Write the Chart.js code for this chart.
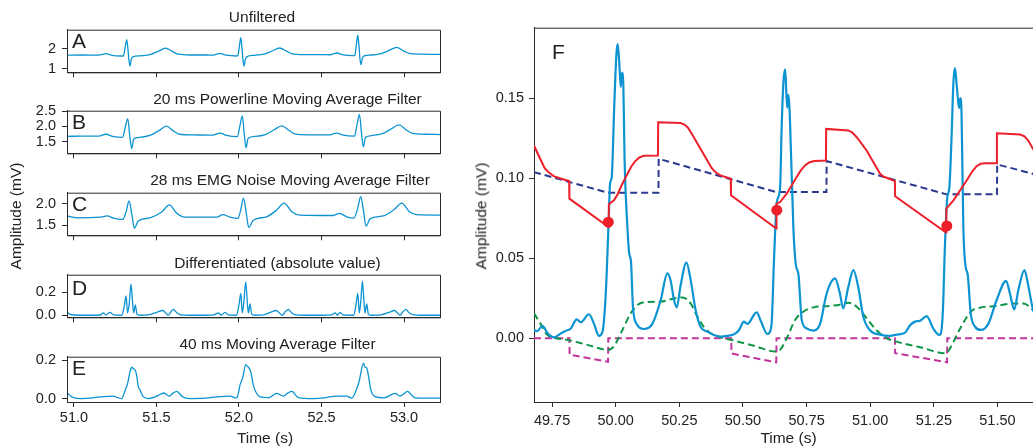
<!DOCTYPE html>
<html>
<head>
<meta charset="utf-8">
<script src="https://cdn.jsdelivr.net/npm/chart.js@4.4.1/dist/chart.umd.min.js"></script>
<style>
body{margin:0;width:1033px;height:447px;overflow:hidden;position:relative;background:#fff;font-family:"Liberation Sans",Arial,Helvetica,sans-serif;color:#222}
canvas{position:absolute}
.lbl{position:absolute;white-space:nowrap;line-height:1;font-size:15.5px;transform:translate(-50%,-50%)}
.rot{transform:translate(-50%,-50%) rotate(-90deg)}
.letter{position:absolute;font-size:21px;line-height:1;transform:translateY(-50%)}
</style>
</head>
<body>
<canvas id="panelA" width="450" height="72" style="left:0;top:15px"></canvas>
<canvas id="panelB" width="450" height="72" style="left:0;top:96px"></canvas>
<canvas id="panelC" width="450" height="72" style="left:0;top:178px"></canvas>
<canvas id="panelD" width="450" height="72" style="left:0;top:260px"></canvas>
<canvas id="panelE" width="450" height="105" style="left:0;top:342px"></canvas>
<canvas id="panelF" width="583" height="433" style="left:470px;top:14px"></canvas>

<div class="lbl" style="left:262px;top:16.5px">Unfiltered</div>
<div class="lbl" style="left:287.5px;top:98.5px">20 ms Powerline Moving Average Filter</div>
<div class="lbl" style="left:290px;top:180px">28 ms EMG Noise Moving Average Filter</div>
<div class="lbl" style="left:277.5px;top:262.5px">Differentiated (absolute value)</div>
<div class="lbl" style="left:277.5px;top:344px">40 ms Moving Average Filter</div>
<div class="lbl" style="left:265px;top:437.5px">Time (s)</div>
<div class="lbl" style="left:788.5px;top:437.5px">Time (s)</div>
<div class="lbl rot" style="left:15.5px;top:216px">Amplitude (mV)</div>
<div class="lbl rot" style="left:480.5px;top:216px">Amplitude (mV)</div>

<div class="letter" style="left:72px;top:39.5px">A</div>
<div class="letter" style="left:72px;top:121px">B</div>
<div class="letter" style="left:72px;top:203px">C</div>
<div class="letter" style="left:72px;top:287px">D</div>
<div class="letter" style="left:72px;top:366.5px">E</div>
<div class="letter" style="left:552px;top:50.5px">F</div>

<script>
// tick labels
const leftTimeTicks = ['51.0', '51.5', '52.0', '52.5', '53.0'];
const rightTimeTicks = ['49.75', '50.00', '50.25', '50.50', '50.75', '51.00', '51.25', '51.50'];
const ticksA = ['1', '2'];
const ticksB = ['1.5', '2.0', '2.5'];
const ticksC = ['1.5', '2.0'];
const ticksD = ['0.0', '0.2'];
const ticksE = ['0.0', '0.2'];
const ticksF = ['0.00', '0.05', '0.10', '0.15'];

// A: unfiltered ECG [time s, mV]
const unfiltered = [
  [50.958,1.67],[51.05,1.68],[51.146,1.67],[51.17,1.70],[51.194,1.75],[51.215,1.70],[51.231,1.66],[51.29,1.63],
  [51.300,1.64],[51.311,2.10],[51.320,2.45],[51.327,2.00],[51.333,1.45],[51.340,1.13],[51.347,1.45],[51.358,1.60],
  [51.400,1.64],[51.461,1.70],[51.510,1.86],[51.556,2.02],[51.594,1.87],[51.631,1.72],[51.703,1.68],[51.80,1.68],
  [51.837,1.67],[51.862,1.71],[51.885,1.76],[51.905,1.71],[51.922,1.67],[51.985,1.63],[51.993,1.65],[52.003,2.15],
  [52.011,2.55],[52.018,2.05],[52.024,1.45],[52.031,1.13],[52.038,1.45],[52.049,1.60],[52.091,1.66],[52.152,1.72],
  [52.201,1.88],[52.247,2.03],[52.285,1.89],[52.322,1.74],[52.394,1.70],[52.50,1.70],[52.546,1.69],[52.570,1.73],
  [52.594,1.78],[52.615,1.73],[52.631,1.69],[52.694,1.65],[52.702,1.67],[52.712,2.25],[52.720,2.67],[52.727,2.15],
  [52.733,1.50],[52.740,1.20],[52.747,1.50],[52.758,1.64],[52.800,1.68],[52.861,1.75],[52.910,1.91],[52.956,2.06],
  [52.994,1.90],[53.031,1.76],[53.103,1.72],[53.218,1.71]
];

// B: 20 ms powerline filter
const powerline = [
  [50.958,1.67],[51.05,1.68],[51.15,1.68],[51.194,1.74],[51.235,1.67],[51.295,1.64],[51.310,1.95],[51.326,2.26],
  [51.338,1.70],[51.350,1.26],[51.362,1.58],[51.40,1.64],[51.46,1.70],[51.515,1.86],[51.562,2.01],[51.600,1.86],
  [51.64,1.74],[51.72,1.72],[51.84,1.71],[51.885,1.78],[51.925,1.70],[51.99,1.66],[52.005,2.00],[52.020,2.35],
  [52.032,1.75],[52.043,1.29],[52.055,1.60],[52.10,1.67],[52.16,1.73],[52.21,1.88],[52.259,2.02],[52.30,1.88],
  [52.34,1.75],[52.42,1.72],[52.55,1.72],[52.592,1.78],[52.632,1.71],[52.70,1.68],[52.715,2.05],[52.730,2.40],
  [52.742,1.80],[52.754,1.32],[52.766,1.63],[52.81,1.70],[52.87,1.76],[52.92,1.91],[52.970,2.05],[53.01,1.90],
  [53.05,1.77],[53.13,1.74],[53.218,1.73]
];

// C: 28 ms EMG filter
const emgFiltered = [
  [50.956,1.72],[51.017,1.675],[51.158,1.69],[51.202,1.72],[51.239,1.67],[51.296,1.64],[51.315,1.80],[51.334,2.07],
  [51.350,1.78],[51.366,1.43],[51.390,1.60],[51.461,1.675],[51.532,1.81],[51.578,1.98],[51.623,1.78],[51.673,1.69],
  [51.865,1.69],[51.902,1.75],[51.946,1.69],[51.993,1.66],[52.010,1.85],[52.027,2.14],[52.043,1.82],[52.059,1.45],
  [52.087,1.62],[52.168,1.70],[52.229,1.86],[52.273,2.02],[52.320,1.82],[52.370,1.74],[52.572,1.73],[52.608,1.78],
  [52.653,1.70],[52.697,1.67],[52.718,1.88],[52.738,2.17],[52.754,1.85],[52.770,1.48],[52.794,1.65],[52.875,1.72],
  [52.940,1.87],[52.986,2.02],[53.033,1.82],[53.077,1.75],[53.218,1.74]
];

// D: differentiated, absolute value
const differentiated = [
  [50.956,0.03],[50.975,0.01],[51.00,0.002],[51.10,0.0],[51.16,0.002],[51.178,0.02],[51.195,0.003],[51.219,0.025],
  [51.24,0.003],[51.29,0.0],[51.305,0.08],[51.316,0.167],[51.325,0.02],[51.335,0.10],[51.346,0.27],[51.356,0.10],
  [51.362,0.02],[51.372,0.09],[51.382,0.01],[51.40,0.0],[51.45,0.003],[51.50,0.025],[51.538,0.041],[51.556,0.02],
  [51.572,0.0],[51.588,0.03],[51.602,0.05],[51.625,0.02],[51.65,0.003],[51.70,0.0],[51.80,0.0],[51.85,0.003],
  [51.875,0.02],[51.893,0.002],[51.916,0.025],[51.935,0.003],[51.985,0.0],[52.000,0.09],[52.011,0.19],[52.020,0.02],
  [52.030,0.12],[52.041,0.29],[52.051,0.10],[52.057,0.02],[52.067,0.098],[52.077,0.01],[52.095,0.0],[52.15,0.003],
  [52.19,0.025],[52.225,0.041],[52.245,0.02],[52.262,0.0],[52.28,0.03],[52.299,0.05],[52.32,0.02],[52.345,0.003],
  [52.40,0.0],[52.50,0.0],[52.56,0.003],[52.582,0.02],[52.598,0.002],[52.613,0.025],[52.63,0.003],[52.695,0.0],
  [52.709,0.09],[52.720,0.19],[52.729,0.02],[52.738,0.12],[52.748,0.295],[52.758,0.10],[52.764,0.02],[52.774,0.098],
  [52.784,0.01],[52.80,0.0],[52.86,0.003],[52.91,0.025],[52.942,0.041],[52.96,0.02],[52.976,0.0],[52.993,0.03],
  [53.011,0.05],[53.032,0.02],[53.06,0.003],[53.10,0.0],[53.218,0.0]
];

// E: 40 ms moving average
const integrated = [
  [50.956,0.033],[50.986,0.009],[51.037,0.0],[51.10,0.002],[51.158,0.009],[51.20,0.011],[51.239,0.013],[51.269,0.004],
  [51.289,0.0],[51.310,0.041],[51.326,0.082],[51.340,0.14],[51.350,0.164],[51.360,0.155],[51.370,0.15],[51.380,0.121],
  [51.390,0.062],[51.400,0.045],[51.420,0.01],[51.451,0.0],[51.49,0.008],[51.522,0.021],[51.546,0.029],[51.562,0.020],
  [51.578,0.013],[51.60,0.028],[51.623,0.037],[51.659,0.009],[51.703,0.0],[51.80,0.002],[51.865,0.009],[51.946,0.013],
  [51.976,0.004],[51.990,0.008],[52.006,0.07],[52.023,0.11],[52.041,0.177],[52.050,0.168],[52.057,0.164],[52.071,0.14],
  [52.087,0.07],[52.103,0.033],[52.128,0.009],[52.18,0.005],[52.229,0.027],[52.269,0.013],[52.295,0.028],[52.320,0.037],
  [52.360,0.005],[52.45,0.0],[52.52,0.004],[52.592,0.013],[52.653,0.013],[52.683,0.002],[52.709,0.041],[52.728,0.09],
  [52.754,0.184],[52.764,0.164],[52.774,0.160],[52.784,0.121],[52.799,0.045],[52.825,0.01],[52.88,0.004],[52.946,0.027],
  [52.976,0.013],[53.0,0.025],[53.020,0.037],[53.067,0.004],[53.218,0.002]
];

// F: detection detail
const fSignal = [
  [49.679,0.0052],[49.692,0.0045],[49.712,0.0077],[49.731,0.0035],[49.758,0.0006],[49.784,0.003],[49.803,0.0046],[49.823,0.006],
  [49.847,0.0118],[49.862,0.010],[49.895,0.0150],[49.915,0.009],[49.934,0.0015],[49.948,0.004],[49.961,0.028],[49.972,0.0716],
  [49.978,0.097],[49.984,0.100],[49.995,0.148],[50.003,0.178],[50.008,0.1837],[50.014,0.172],[50.020,0.157],[50.025,0.166],
  [50.030,0.158],[50.035,0.111],[50.046,0.0695],[50.053,0.053],[50.060,0.048],[50.068,0.019],[50.085,0.0083],[50.111,0.0058],
  [50.144,0.009],[50.177,0.0239],[50.203,0.0405],[50.216,0.036],[50.229,0.024],[50.240,0.0193],[50.255,0.033],[50.278,0.0473],
  [50.295,0.036],[50.314,0.0177],[50.334,0.007],[50.360,0.0042],[50.386,0.002],[50.412,0.001],[50.439,0.0015],[50.465,0.0025],
  [50.484,0.005],[50.504,0.0104],[50.517,0.009],[50.554,0.0162],[50.570,0.011],[50.596,0.0027],[50.612,0.008],[50.622,0.0488],
  [50.633,0.085],[50.646,0.094],[50.652,0.131],[50.659,0.160],[50.666,0.168],[50.670,0.155],[50.674,0.144],[50.679,0.152],
  [50.684,0.140],[50.698,0.0695],[50.708,0.0457],[50.718,0.040],[50.731,0.0115],[50.750,0.0062],[50.777,0.0048],[50.803,0.009],
  [50.829,0.028],[50.862,0.0374],[50.881,0.028],[50.894,0.0187],[50.914,0.032],[50.934,0.0426],[50.953,0.032],[50.973,0.0135],
  [50.999,0.005],[51.039,0.0023],[51.078,0.0015],[51.104,0.0023],[51.137,0.0035],[51.156,0.008],[51.176,0.0104],[51.196,0.011],
  [51.222,0.0139],[51.248,0.006],[51.272,0.0021],[51.285,0.015],[51.294,0.0592],[51.303,0.088],[51.311,0.094],[51.320,0.127],
  [51.327,0.160],[51.333,0.1687],[51.340,0.158],[51.349,0.1438],[51.354,0.150],[51.359,0.140],[51.366,0.0695],[51.375,0.0446],
  [51.383,0.040],[51.395,0.0156],[51.412,0.0073],[51.435,0.0052],[51.464,0.009],[51.497,0.0239],[51.534,0.0359],[51.549,0.028],
  [51.566,0.018],[51.582,0.030],[51.606,0.0426],[51.621,0.033],[51.640,0.0177],[51.660,0.011],[51.679,0.008]
];
const fThreshold = [
  [49.679,0.1204],[49.705,0.1115],[49.720,0.1065],[49.735,0.1038],[49.758,0.1011],[49.790,0.0995],[49.817,0.0982],[49.818,0.0872],
  [49.972,0.0695],[49.973,0.0837],[49.993,0.0862],[50.008,0.0900],[50.020,0.0945],[50.046,0.1027],[50.062,0.1075],[50.076,0.1105],
  [50.092,0.1128],[50.110,0.1140],[50.166,0.1142],[50.167,0.1349],[50.255,0.1345],[50.270,0.1335],[50.284,0.1315],[50.300,0.1275],
  [50.360,0.111],[50.376,0.1065],[50.390,0.1040],[50.412,0.1017],[50.452,0.0996],[50.453,0.0893],[50.631,0.0685],[50.632,0.0841],
  [50.646,0.0851],[50.672,0.0903],[50.711,0.1007],[50.728,0.1050],[50.744,0.1080],[50.760,0.1098],[50.780,0.1107],[50.826,0.111],
  [50.827,0.1308],[50.914,0.1298],[50.930,0.1285],[50.947,0.1256],[50.986,0.1173],[51.039,0.1027],[51.052,0.1010],[51.065,0.1003],
  [51.097,0.0982],[51.098,0.0887],[51.298,0.066],[51.299,0.081],[51.327,0.0862],[51.379,0.0986],[51.400,0.1040],[51.418,0.1075],
  [51.434,0.1090],[51.451,0.1094],[51.497,0.1094],[51.498,0.1281],[51.589,0.1273],[51.606,0.1262],[51.621,0.1235],[51.640,0.1183],
  [51.679,0.110]
];
const fPeaks = [[49.971,0.0725],[50.633,0.080],[51.301,0.0702]];
const fSignalLevel = [
  [49.679,0.1038],[49.970,0.0909],[50.168,0.0909],[50.169,0.1121],[50.632,0.0913],[50.828,0.0913],[50.829,0.1107],
  [51.300,0.0899],[51.498,0.0899],[51.499,0.1086],[51.679,0.1011]
];
const fNoiseLevel = [
  [49.679,0.0156],[49.705,0.009],[49.731,0.0021],[49.758,0.0003],[49.810,-0.001],[49.889,-0.0041],[49.970,-0.0072],[49.993,-0.005],
  [50.020,0.0031],[50.059,0.0156],[50.085,0.0208],[50.124,0.0227],[50.177,0.0229],[50.229,0.0249],[50.262,0.0255],[50.295,0.0217],
  [50.321,0.0135],[50.347,0.007],[50.373,0.0031],[50.412,0.0006],[50.465,-0.0015],[50.543,-0.0047],[50.629,-0.0083],[50.646,-0.0072],
  [50.672,0.0],[50.705,0.0114],[50.737,0.0166],[50.777,0.0193],[50.842,0.0202],[50.881,0.0210],[50.914,0.0222],[50.947,0.0197],
  [50.986,0.0125],[51.025,0.005],[51.065,0.0],[51.104,-0.0021],[51.196,-0.0056],[51.297,-0.0093],[51.314,-0.0062],[51.353,0.006],
  [51.399,0.0172],[51.431,0.0191],[51.497,0.0202],[51.562,0.0218],[51.602,0.0218],[51.640,0.0177],[51.679,0.012]
];
const fRefractory = [
  [49.679,0],[49.818,0],[49.819,-0.0103],[49.970,-0.0147],[49.971,0],[50.454,0],[50.455,-0.0095],[50.631,-0.0150],
  [50.632,0],[51.097,0],[51.098,-0.0093],[51.302,-0.0150],[51.303,0],[51.679,0]
];

const blue = '#0b93d2';
const red = '#ed1f2a';
const navy = '#2b3990';
const green = '#0f9548';
const magenta = '#c2359b';
const axisColor = '#2a2a2a';
const fontFamily = '"Liberation Sans", Arial, Helvetica, sans-serif';

function pairs(list) {
    return list.map(function(p) { return {x: p[0], y: p[1]}; });
}

// box round the plot area (matplotlib style spines)
const framePlugin = {
    id: 'frame',
    afterDraw: function(chart, args, opts) {
        const a = chart.chartArea;
        const ctx = chart.ctx;
        ctx.save();
        ctx.strokeStyle = axisColor;
        ctx.lineWidth = 1;
        ctx.beginPath();
        if (opts.topOnly) {
            ctx.moveTo(a.left, a.top + 0.5);
            ctx.lineTo(a.right, a.top + 0.5);
        } else {
            ctx.rect(a.left + 0.5, a.top + 0.5, a.right - a.left, a.bottom - a.top);
        }
        ctx.stroke();
        ctx.restore();
    }
};

function axis(min, max, labels, showLabels, padding, fitFn) {
    return {
        type: 'linear',
        min: min,
        max: max,
        afterBuildTicks: function(s) {
            s.ticks = labels.map(function(l) { return {value: parseFloat(l)}; });
        },
        afterFit: fitFn,
        grid: {drawOnChartArea: false, drawTicks: true, tickLength: 5, tickColor: axisColor, tickWidth: 1},
        border: {display: true, color: axisColor, width: 1},
        ticks: {
            display: showLabels,
            color: '#222',
            font: {family: fontFamily, size: 14.5},
            padding: padding,
            maxRotation: 0,
            autoSkip: false,
            callback: function(v, i) { return labels[i]; }
        }
    };
}

function drawPanel(id, series, yMin, yMax, yLabels, showX, xHeight) {
    new Chart(document.getElementById(id), {
        type: 'line',
        data: {
            datasets: [{
                data: pairs(series),
                borderColor: blue,
                borderWidth: 1.3,
                pointRadius: 0,
                cubicInterpolationMode: 'monotone',
                fill: false
            }]
        },
        options: {
            responsive: false,
            animation: false,
            devicePixelRatio: 1,
            events: [],
            layout: {padding: {top: 12, bottom: 0, left: 0, right: 10}},
            plugins: {legend: {display: false}, tooltip: {enabled: false}, frame: {}},
            scales: {
                x: axis(50.958, 53.218, leftTimeTicks, showX, 2, function(s) { s.height = xHeight; }),
                y: axis(yMin, yMax, yLabels, true, 6, function(s) { s.width = 67; })
            }
        },
        plugins: [framePlugin]
    });
}

drawPanel('panelA', unfiltered, 0.81, 2.95, ticksA, false, 12);
drawPanel('panelB', powerline, 1.11, 2.52, ticksB, false, 12);
drawPanel('panelC', emgFiltered, 1.265, 2.265, ticksC, false, 12);
drawPanel('panelD', differentiated, -0.018, 0.352, ticksD, false, 12);
drawPanel('panelE', integrated, -0.018, 0.218, ticksE, true, 45);

function dashed(series, color, smooth) {
    return {
        data: pairs(series),
        borderColor: color,
        borderWidth: 2,
        borderDash: [7, 4],
        pointRadius: 0,
        cubicInterpolationMode: smooth ? 'monotone' : 'default',
        tension: 0,
        fill: false,
        order: 3
    };
}

new Chart(document.getElementById('panelF'), {
    type: 'line',
    data: {
        datasets: [
            {data: pairs(fPeaks), showLine: false, pointRadius: 5.5, pointBackgroundColor: red, pointBorderWidth: 0, order: 0},
            {data: pairs(fThreshold), borderColor: red, borderWidth: 2, pointRadius: 0, tension: 0, fill: false, order: 1},
            {data: pairs(fSignal), borderColor: blue, borderWidth: 2.2, pointRadius: 0, cubicInterpolationMode: 'monotone', fill: false, order: 2},
            dashed(fSignalLevel, navy, false),
            dashed(fNoiseLevel, green, true),
            dashed(fRefractory, magenta, false)
        ]
    },
    options: {
        responsive: false,
        animation: false,
        devicePixelRatio: 1,
        events: [],
        layout: {padding: {top: 12, bottom: 0, left: 0, right: 10}},
        plugins: {legend: {display: false}, tooltip: {enabled: false}, frame: {topOnly: true}},
        scales: {
            x: axis(49.679, 51.679, rightTimeTicks, true, 5, function(s) { s.height = 45; }),
            y: axis(-0.0398, 0.194, ticksF, true, 5, function(s) { s.width = 64; })
        }
    },
    plugins: [framePlugin]
});
</script>
</body>
</html>
